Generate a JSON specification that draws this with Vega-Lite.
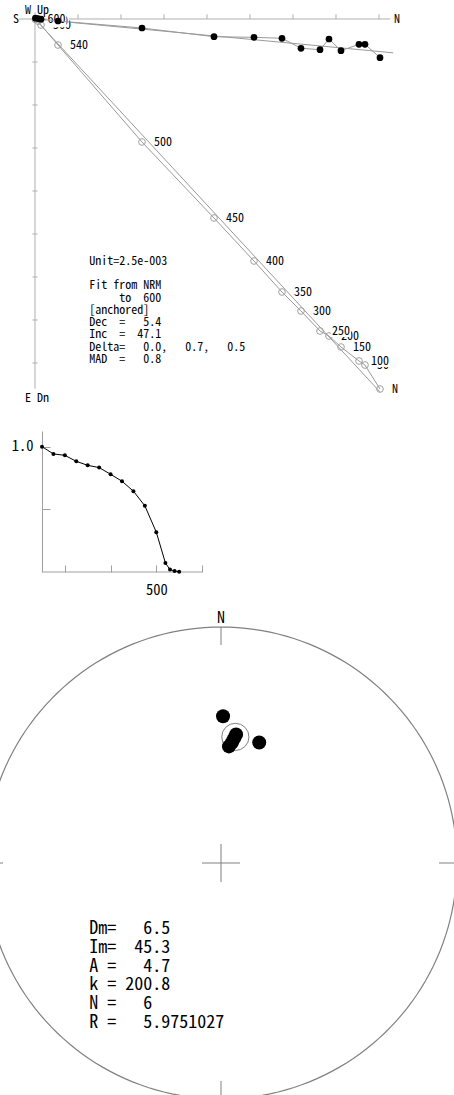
{
  "$schema": "https://vega.github.io/schema/vega-lite/v6.json",
  "padding": 0,
  "spacing": 0,
  "bounds": "flush",
  "background": "white",
  "config": {
    "view": {"stroke": null},
    "text": {"font": "Noto Sans Mono CJK SC, Liberation Mono, monospace", "color": "black"},
    "axis": {"labelFont": "Noto Sans Mono CJK SC, Liberation Mono, monospace"}
  },
  "datasets": {
    "steps": [
      {"label": "N", "T": 0, "N": 8.023, "E": 0.9, "Z": 8.605, "J": 1.0},
      {"label": "50", "T": 50, "N": 7.674, "E": 0.588, "Z": 8.047, "J": 0.942},
      {"label": "100", "T": 100, "N": 7.535, "E": 0.588, "Z": 7.953, "J": 0.931},
      {"label": "150", "T": 150, "N": 7.116, "E": 0.737, "Z": 7.628, "J": 0.883},
      {"label": "200", "T": 200, "N": 6.837, "E": 0.465, "Z": 7.372, "J": 0.851},
      {"label": "250", "T": 250, "N": 6.628, "E": 0.714, "Z": 7.256, "J": 0.833},
      {"label": "300", "T": 300, "N": 6.186, "E": 0.681, "Z": 6.791, "J": 0.78},
      {"label": "350", "T": 350, "N": 5.744, "E": 0.449, "Z": 6.349, "J": 0.724},
      {"label": "400", "T": 400, "N": 5.093, "E": 0.426, "Z": 5.628, "J": 0.645},
      {"label": "450", "T": 450, "N": 4.163, "E": 0.412, "Z": 4.628, "J": 0.528},
      {"label": "500", "T": 500, "N": 2.488, "E": 0.209, "Z": 2.86, "J": 0.318},
      {"label": "540", "T": 540, "N": 0.535, "E": 0.047, "Z": 0.605, "J": 0.072},
      {"label": "560", "T": 560, "N": 0.14, "E": 0.005, "Z": 0.14, "J": 0.019},
      {"label": "580", "T": 580, "N": 0.07, "E": -0.01, "Z": 0.05, "J": 0.008},
      {"label": "600", "T": 600, "N": 0.01, "E": -0.02, "Z": 0.01, "J": 0.002}
    ],
    "ticks": [{"t": 1}, {"t": 2}, {"t": 3}, {"t": 4}, {"t": 5}, {"t": 6}, {"t": 7}, {"t": 8}],
    "specimens": [
      {"dec": 0.8, "inc": 37.8},
      {"dec": 17.6, "inc": 45.5},
      {"dec": 6.7, "inc": 44.4},
      {"dec": 6.0, "inc": 45.9},
      {"dec": 5.2, "inc": 47.5},
      {"dec": 3.9, "inc": 49.0}
    ],
    "mean": [{"Dm": 6.5, "Im": 45.3, "A95": 4.7}],
    "netmarks": [
      {"lon": 0, "lat": 0, "lon2": 0, "lat2": 8.44},
      {"lon": 90, "lat": 0, "lon2": 90, "lat2": 8.44},
      {"lon": 180, "lat": 0, "lon2": 180, "lat2": 8.44},
      {"lon": 270, "lat": 0, "lon2": 270, "lat2": 8.44},
      {"lon": 0, "lat": 83.47, "lon2": 180, "lat2": 83.47},
      {"lon": 90, "lat": 83.47, "lon2": 270, "lat2": 83.47}
    ]
  },
  "vconcat": [
    {
      "width": 454,
      "height": 431,
      "layer": [
        {
          "data": {"values": [{}]},
          "mark": {"type": "rule", "color": "#b0b0b0", "strokeWidth": 1},
          "encoding": {
            "x": {"datum": -0.37, "type": "quantitative", "scale": {"domain": [-0.81395, 9.74419], "nice": false, "zero": false}, "axis": null},
            "x2": {"datum": 8.26},
            "y": {"datum": 0, "type": "quantitative", "scale": {"domain": [-0.44186, 9.5814], "nice": false, "zero": false, "reverse": true}, "axis": null}
          }
        },
        {
          "data": {"values": [{}]},
          "mark": {"type": "rule", "color": "#b0b0b0", "strokeWidth": 1},
          "encoding": {
            "x": {"datum": 0, "type": "quantitative"},
            "y": {"datum": -0.15, "type": "quantitative"},
            "y2": {"datum": 8.6}
          }
        },
        {
          "data": {"name": "ticks"},
          "mark": {"type": "rule", "color": "#b0b0b0", "strokeWidth": 1},
          "encoding": {
            "x": {"field": "t", "type": "quantitative"},
            "y": {"datum": -0.11, "type": "quantitative"},
            "y2": {"datum": 0}
          }
        },
        {
          "data": {"name": "ticks"},
          "mark": {"type": "rule", "color": "#b0b0b0", "strokeWidth": 1},
          "encoding": {
            "y": {"field": "t", "type": "quantitative"},
            "x": {"datum": -0.06, "type": "quantitative"},
            "x2": {"datum": 0.06}
          }
        },
        {
          "data": {"values": [{}]},
          "mark": {"type": "rule", "color": "#9a9a9a", "strokeWidth": 1},
          "encoding": {
            "x": {"datum": 0, "type": "quantitative"},
            "y": {"datum": 0, "type": "quantitative"},
            "x2": {"datum": 8.33},
            "y2": {"datum": 0.787}
          }
        },
        {
          "data": {"values": [{}]},
          "mark": {"type": "rule", "color": "#9a9a9a", "strokeWidth": 1},
          "encoding": {
            "x": {"datum": 0, "type": "quantitative"},
            "y": {"datum": 0, "type": "quantitative"},
            "x2": {"datum": 8.02},
            "y2": {"datum": 8.67}
          }
        },
        {
          "data": {"name": "steps"},
          "mark": {"type": "line", "color": "#9a9a9a", "strokeWidth": 1},
          "encoding": {
            "x": {"field": "N", "type": "quantitative"},
            "y": {"field": "Z", "type": "quantitative"},
            "order": {"field": "T", "type": "quantitative"}
          }
        },
        {
          "data": {"name": "steps"},
          "mark": {"type": "point", "filled": false, "color": "#a0a0a0", "strokeWidth": 1, "size": 45, "opacity": 1},
          "encoding": {
            "x": {"field": "N", "type": "quantitative"},
            "y": {"field": "Z", "type": "quantitative"}
          }
        },
        {
          "data": {"name": "steps"},
          "transform": [{"filter": "datum.T != 100 && datum.T != 250 && datum.T != 580 && datum.T != 600"}],
          "mark": {"type": "text", "align": "left", "baseline": "middle", "dx": 12, "fontSize": 12},
          "encoding": {
            "x": {"field": "N", "type": "quantitative"},
            "y": {"field": "Z", "type": "quantitative"},
            "text": {"field": "label"}
          }
        },
        {
          "data": {"name": "steps"},
          "transform": [{"filter": "datum.T == 100 || datum.T == 250 || datum.T == 580"}],
          "mark": {"type": "rect", "color": "white", "xOffset": 11, "x2Offset": 31, "yOffset": -6, "y2Offset": 6},
          "encoding": {
            "x": {"field": "N", "type": "quantitative"},
            "x2": {"field": "N"},
            "y": {"field": "Z", "type": "quantitative"},
            "y2": {"field": "Z"}
          }
        },
        {
          "data": {"name": "steps"},
          "transform": [{"filter": "datum.T == 100 || datum.T == 250 || datum.T == 580"}],
          "mark": {"type": "text", "align": "left", "baseline": "middle", "dx": 12, "fontSize": 12},
          "encoding": {
            "x": {"field": "N", "type": "quantitative"},
            "y": {"field": "Z", "type": "quantitative"},
            "text": {"field": "label"}
          }
        },
        {
          "data": {"name": "steps"},
          "transform": [{"filter": "datum.T == 600"}],
          "mark": {"type": "rect", "color": "white", "xOffset": 11, "x2Offset": 31, "yOffset": -6, "y2Offset": 6},
          "encoding": {
            "x": {"field": "N", "type": "quantitative"},
            "x2": {"field": "N"},
            "y": {"field": "Z", "type": "quantitative"},
            "y2": {"field": "Z"}
          }
        },
        {
          "data": {"name": "steps"},
          "transform": [{"filter": "datum.T == 600"}],
          "mark": {"type": "text", "align": "left", "baseline": "middle", "dx": 12, "fontSize": 12},
          "encoding": {
            "x": {"field": "N", "type": "quantitative"},
            "y": {"field": "Z", "type": "quantitative"},
            "text": {"field": "label"}
          }
        },
        {
          "data": {"name": "steps"},
          "mark": {"type": "line", "color": "#9a9a9a", "strokeWidth": 1},
          "encoding": {
            "x": {"field": "N", "type": "quantitative"},
            "y": {"field": "E", "type": "quantitative"},
            "order": {"field": "T", "type": "quantitative"}
          }
        },
        {
          "data": {"name": "steps"},
          "mark": {"type": "point", "filled": true, "color": "black", "size": 45, "opacity": 1},
          "encoding": {
            "x": {"field": "N", "type": "quantitative"},
            "y": {"field": "E", "type": "quantitative"}
          }
        },
        {
          "data": {"values": [{}]},
          "mark": {"type": "text", "align": "center", "baseline": "middle", "fontSize": 12},
          "encoding": {
            "x": {"datum": -0.442, "type": "quantitative"},
            "y": {"datum": 0, "type": "quantitative"},
            "text": {"value": "S"}
          }
        },
        {
          "data": {"values": [{}]},
          "mark": {"type": "text", "align": "left", "baseline": "middle", "fontSize": 12},
          "encoding": {
            "x": {"datum": -0.233, "type": "quantitative"},
            "y": {"datum": -0.2, "type": "quantitative"},
            "text": {"value": "W\u00a0Up"}
          }
        },
        {
          "data": {"values": [{}]},
          "mark": {"type": "text", "align": "left", "baseline": "middle", "fontSize": 12},
          "encoding": {
            "x": {"datum": 8.35, "type": "quantitative"},
            "y": {"datum": 0, "type": "quantitative"},
            "text": {"value": "N"}
          }
        },
        {
          "data": {"values": [{}]},
          "mark": {"type": "text", "align": "left", "baseline": "middle", "fontSize": 12},
          "encoding": {
            "x": {"datum": -0.233, "type": "quantitative"},
            "y": {"datum": 8.807, "type": "quantitative"},
            "text": {"value": "E\u00a0Dn"}
          }
        },
        {
          "data": {"values": [{}]},
          "mark": {"type": "text", "align": "left", "baseline": "top", "fontSize": 12},
          "encoding": {
            "x": {"datum": 1.263, "type": "quantitative"},
            "y": {"datum": 5.509, "type": "quantitative"},
            "text": {"value": "Unit=2.5e-003"}
          }
        },
        {
          "data": {"values": [{}]},
          "mark": {"type": "text", "align": "left", "baseline": "top", "fontSize": 12, "lineHeight": 12.25},
          "encoding": {
            "x": {"datum": 1.263, "type": "quantitative"},
            "y": {"datum": 6.079, "type": "quantitative"},
            "text": {"value": ["Fit from NRM", "\u200b\u00a0\u00a0\u00a0\u00a0\u00a0to\u00a0\u00a0600", "[anchored]", "Dec\u00a0\u00a0=\u00a0\u00a0\u00a05.4", "Inc\u00a0\u00a0=\u00a0\u00a047.1", "Delta=\u00a0\u00a0\u00a00.0,\u00a0\u00a0\u00a00.7,\u00a0\u00a0\u00a00.5", "MAD\u00a0\u00a0=\u00a0\u00a0\u00a00.8"]}
          }
        }
      ]
    },
    {
      "width": 202,
      "height": 141,
      "data": {"name": "steps"},
      "layer": [
        {
          "data": {"values": [{}]},
          "mark": {"type": "rule", "color": "#a0a0a0", "strokeWidth": 1},
          "encoding": {
            "x": {"datum": 0, "type": "quantitative", "scale": {"domain": [-183.75, 700], "nice": false, "zero": false},
              "axis": {"title": null, "grid": false, "domain": false, "values": [100, 200, 300, 400, 500, 600, 700], "tickColor": "#a0a0a0", "tickSize": -7, "labelExpr": "datum.value == 500 ? '500' : ''", "labelFontSize": 14.5, "labelColor": "black", "labelPadding": 18, "labelFlush": false, "labelOverlap": false}},
            "x2": {"datum": 700},
            "y": {"datum": 0, "type": "quantitative", "scale": {"domain": [0, 1.125], "nice": false, "zero": false},
              "axis": {"title": null, "grid": false, "offset": -42, "values": [0.5, 1], "domainColor": "#a0a0a0", "tickColor": "#a0a0a0", "tickSize": -8, "labelExpr": "datum.value == 1 ? '1.0' : ''", "labelFontSize": 14.5, "labelColor": "black", "labelPadding": 17, "labelFlush": false, "labelOverlap": false}}
          }
        },
        {
          "mark": {"type": "line", "color": "black", "strokeWidth": 1},
          "encoding": {
            "x": {"field": "T", "type": "quantitative"},
            "y": {"field": "J", "type": "quantitative"}
          }
        },
        {
          "mark": {"type": "point", "filled": true, "color": "black", "size": 16, "opacity": 1},
          "encoding": {
            "x": {"field": "T", "type": "quantitative"},
            "y": {"field": "J", "type": "quantitative"}
          }
        }
      ]
    },
    {
      "width": 454,
      "height": 523,
      "projection": {"type": "azimuthalEqualArea", "rotate": [0, -90, 0], "reflectY": true, "clipAngle": 90, "scale": 166.88, "translate": [221, 291]},
      "layer": [
        {
          "data": {"sphere": true},
          "mark": {"type": "geoshape", "filled": false, "stroke": "#808080", "strokeWidth": 1.2, "clip": true}
        },
        {
          "data": {"name": "netmarks"},
          "mark": {"type": "rule", "color": "#808080", "strokeWidth": 1, "clip": true},
          "encoding": {
            "longitude": {"field": "lon", "type": "quantitative"},
            "latitude": {"field": "lat", "type": "quantitative"},
            "longitude2": {"field": "lon2"},
            "latitude2": {"field": "lat2"}
          }
        },
        {
          "data": {"name": "mean"},
          "mark": {"type": "point", "filled": false, "color": "#808080", "strokeWidth": 1, "size": 740, "opacity": 1},
          "encoding": {
            "longitude": {"field": "Dm", "type": "quantitative"},
            "latitude": {"field": "Im", "type": "quantitative"}
          }
        },
        {
          "data": {"name": "specimens"},
          "mark": {"type": "point", "filled": true, "color": "black", "size": 196, "opacity": 1},
          "encoding": {
            "longitude": {"field": "dec", "type": "quantitative"},
            "latitude": {"field": "inc", "type": "quantitative"}
          }
        },
        {
          "data": {"values": [{}]},
          "mark": {"type": "text", "align": "center", "baseline": "middle", "fontSize": 16, "dy": -9},
          "encoding": {
            "longitude": {"datum": 0},
            "latitude": {"datum": 0},
            "text": {"value": "N"}
          }
        },
        {
          "data": {"values": [{}]},
          "mark": {"type": "text", "align": "left", "baseline": "top", "fontSize": 18, "lineHeight": 18.8},
          "encoding": {
            "longitude": {"datum": 246.6},
            "latitude": {"datum": 39.06},
            "text": {"value": ["Dm=\u00a0\u00a0\u00a06.5", "Im=\u00a0\u00a045.3", "A\u00a0=\u00a0\u00a0\u00a04.7", "k\u00a0=\u00a0200.8", "N\u00a0=\u00a0\u00a0\u00a06", "R\u00a0=\u00a0\u00a0\u00a05.9751027"]}
          }
        }
      ]
    }
  ]
}
